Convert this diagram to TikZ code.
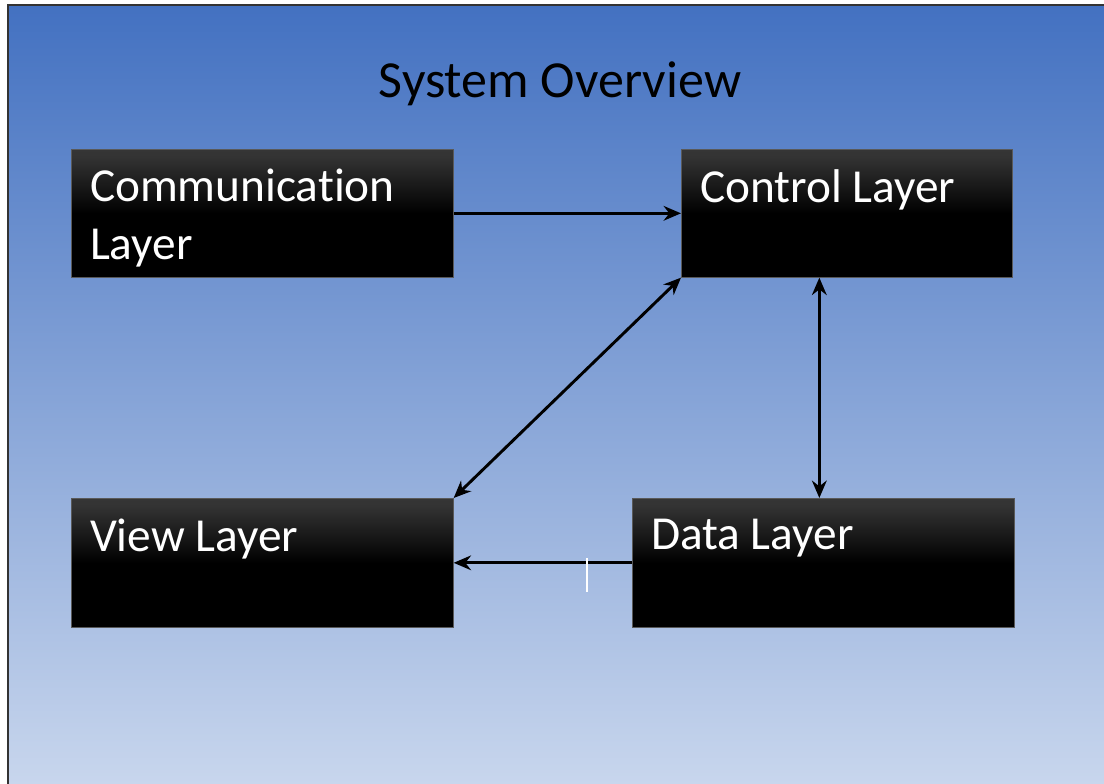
\documentclass[tikz,border=0pt]{standalone}
\usepackage{fontspec}
\setmainfont[Ligatures=NoCommon]{Carlito}
\usetikzlibrary{arrows.meta,calc}

\definecolor{bgtop}{RGB}{67,113,193}
\definecolor{bgbottom}{RGB}{200,214,237}
\pgfdeclareverticalshading{layershade}{100bp}{color(0bp)=(black); color(50bp)=(black); color(72bp)=(black!80); color(100bp)=(black!72)}
\newcommand{\layertext}[2]{\parbox[t][66pt][t]{#1}{#2}}

\tikzset{every picture/.style={line width=0.75pt}}
\tikzset{
  layer/.style={rectangle, anchor=north west, draw=black!65, line width=0.5pt,
    shading=layershade, text=white, align=left, inner xsep=14pt, inner ysep=15pt,
    font=\fontsize{35.5}{43.5}\selectfont},
  link/.style={line width=2.2pt, -{Stealth[length=13pt,width=11pt]}},
  biglink/.style={line width=2.2pt, {Stealth[length=13pt,width=11pt]}-{Stealth[length=13pt,width=11pt]}}
}

\begin{document}
\begin{tikzpicture}[x=0.75pt,y=0.75pt,yscale=-1,xscale=1]
	\useasboundingbox (0,0) rectangle (1104,784);

	% Background
	\shade[top color=bgtop, bottom color=bgbottom] (8,5) rectangle (1104,784);
	\draw[black!80, line width=1.2pt] (8,784) -- (8,5) -- (1104,5);

	% Title
	\node (title) at (560,84) {\fontsize{39}{46}\selectfont System Overview};

	% Layers
	\node[layer, minimum width=286.5pt, minimum height=96pt] (comm) at (71,149) {\layertext{258.5pt}{Communication\\Layer}};
	\node[layer, minimum width=248.25pt, minimum height=96pt] (ctrl) at (681,149) {\layertext{220.25pt}{Control Layer}};
	\node[layer, minimum width=286.5pt, minimum height=96.75pt] (view) at (71,498) {\layertext{258.5pt}{View Layer}};
	\node[layer, minimum width=286.5pt, minimum height=96.75pt] (data) at (632,498) {\layertext{258.5pt}{Data Layer}};

	% Connectors
	\draw[link] (comm.east) -- (comm.east -| ctrl.west);
	\draw[biglink] (ctrl.south west) -- (view.north east);
	\draw[biglink] ($(ctrl.south -| data.north)+(-4,0)$) -- ($(data.north)+(-4,0)$);
	\draw[link] (data.west) -- (data.west -| view.east);

	% Cursor mark
	\draw[white, line width=1pt] (587,558) -- (587,592);

\end{tikzpicture}
\end{document}
